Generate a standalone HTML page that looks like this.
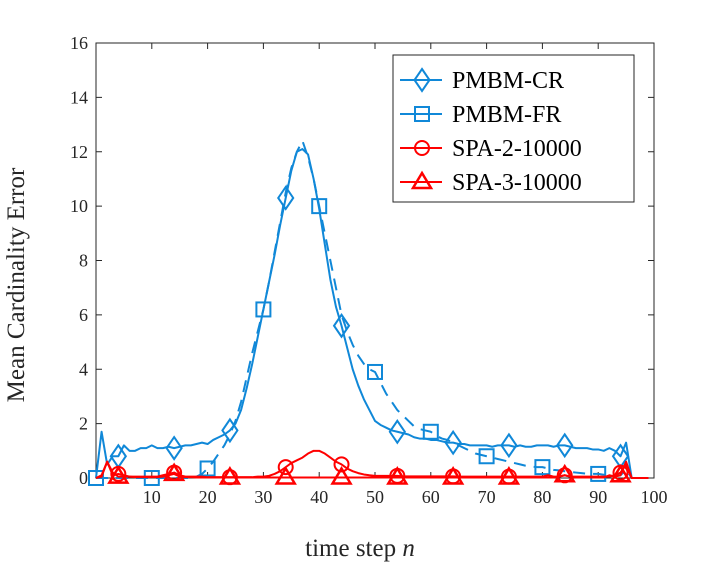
<!DOCTYPE html>
<html><head><meta charset="utf-8"><style>
body{margin:0;background:#fff}
svg{display:block;font-family:"Liberation Serif",serif}
</style></head><body>
<svg id="chart" width="720" height="566" viewBox="0 0 720 566"></svg>
<script>
const xTicks=[10,20,30,40,50,60,70,80,90,100];
const yTicks=[0,2,4,6,8,10,12,14,16];
const steps=Array.from({length:100},(_,i)=>i);
const cr=[0,1.7,0.5,0.8,0.8,1.2,1.0,1.0,1.1,1.1,1.2,1.1,1.1,1.15,1.1,1.15,1.2,1.2,1.25,1.3,1.25,1.4,1.5,1.6,1.75,2.0,2.5,3.3,4.2,5.2,6.2,7.2,8.2,9.3,10.3,11.3,12.0,12.1,11.9,11.0,9.9,8.6,7.3,6.3,5.6,4.8,4.0,3.4,2.9,2.5,2.1,1.95,1.85,1.75,1.7,1.65,1.6,1.5,1.45,1.45,1.4,1.4,1.35,1.3,1.3,1.25,1.25,1.2,1.2,1.2,1.2,1.15,1.2,1.2,1.2,1.15,1.2,1.15,1.15,1.2,1.2,1.2,1.15,1.2,1.2,1.15,1.1,1.1,1.1,1.05,1.05,1.0,1.1,1.0,0.8,1.3,0,0,0,0];
const fr=[0,0,0,0,0,0,0,0,0,0,0,0,0,0,0,0,0,0,0.05,0.15,0.35,0.6,0.9,1.2,1.6,2.1,2.8,3.7,4.6,5.4,6.2,7.2,8.3,9.4,10.5,11.4,12.0,12.4,11.8,11.0,10.0,9.0,8.0,7.0,6.0,5.4,4.9,4.5,4.2,4.0,3.9,3.5,3.1,2.8,2.5,2.3,2.1,1.9,1.8,1.75,1.7,1.55,1.45,1.4,1.3,1.2,1.1,1.0,0.9,0.85,0.8,0.75,0.7,0.65,0.6,0.55,0.5,0.45,0.42,0.4,0.4,0.35,0.3,0.28,0.25,0.22,0.2,0.18,0.16,0.15,0.15,0.12,0.1,0.1,0.1,0.3,0,0,0,0];
const spa2=[0,0.1,0.6,0.1,0.15,0.1,0.05,0.05,0.05,0.05,0.05,0.05,0.1,0.15,0.2,0.1,0.05,0.05,0.05,0.05,0.03,0.03,0.03,0.03,0.03,0.03,0.03,0.03,0.03,0.05,0.05,0.08,0.15,0.25,0.4,0.55,0.65,0.75,0.9,1.0,1.0,0.9,0.75,0.6,0.5,0.35,0.25,0.18,0.13,0.1,0.08,0.08,0.08,0.08,0.08,0.06,0.06,0.06,0.06,0.06,0.06,0.06,0.06,0.06,0.06,0.05,0.05,0.05,0.05,0.05,0.05,0.05,0.05,0.05,0.05,0.05,0.05,0.05,0.05,0.05,0.05,0.1,0.05,0.05,0.1,0.05,0.05,0.05,0.05,0.05,0.05,0.05,0.05,0.1,0.2,0.5,0,0,0,0];
const spa3=[0,0.05,0.6,0.2,0.05,0.05,0.05,0.03,0.03,0.03,0.03,0.03,0.05,0.1,0.15,0.05,0.03,0.03,0.02,0.02,0.02,0.02,0.02,0.02,0.02,0.02,0.02,0.02,0.02,0.02,0.02,0.02,0.02,0.02,0.02,0.02,0.02,0.02,0.02,0.02,0.02,0.02,0.02,0.02,0.02,0.02,0.02,0.02,0.02,0.02,0.02,0.02,0.02,0.02,0.02,0.02,0.02,0.02,0.02,0.02,0.02,0.02,0.02,0.02,0.02,0.02,0.02,0.02,0.02,0.02,0.02,0.02,0.02,0.02,0.02,0.02,0.02,0.02,0.02,0.02,0.02,0.02,0.02,0.05,0.1,0.05,0.02,0.02,0.02,0.02,0.02,0.02,0.1,0.05,0.1,0.6,0,0,0,0];
const legendLabels=["PMBM-CR","PMBM-FR","SPA-2-10000","SPA-3-10000"];

const L=96,R=654,T=43,B=478;
const X=v=>L+(v-0)/100*(R-L);
const Y=v=>B-v/16*(B-T);
const svg=document.getElementById('chart');
const NS='http://www.w3.org/2000/svg';
function mk(tag,attrs,parent){const e=document.createElementNS(NS,tag);for(const k in attrs)e.setAttribute(k,attrs[k]);(parent||svg).appendChild(e);return e;}

const axes=mk('g',{});


mk('rect',{x:L,y:T,width:R-L,height:B-T,fill:'none',stroke:'#262626','stroke-width':1},axes);
xTicks.forEach(t=>{
  mk('line',{x1:X(t),x2:X(t),y1:B,y2:B-6,stroke:'#262626'},axes);
  mk('line',{x1:X(t),x2:X(t),y1:T,y2:T+6,stroke:'#262626'},axes);
  const tx=mk('text',{x:X(t),y:B+25,'text-anchor':'middle','font-size':18,fill:'#262626'},axes);
  tx.textContent=t;
  
  
});
yTicks.forEach(t=>{
  mk('line',{x1:L,x2:L+6,y1:Y(t),y2:Y(t),stroke:'#262626'},axes);
  mk('line',{x1:R,x2:R-6,y1:Y(t),y2:Y(t),stroke:'#262626'},axes);
  const tx=mk('text',{x:L-8,y:Y(t)+6,'text-anchor':'end','font-size':18,fill:'#262626'},axes);
  tx.textContent=t;
  
  
});
const xl=mk('text',{x:360,y:556,'text-anchor':'middle','font-size':25,fill:'#262626'});
xl.innerHTML='time step <tspan font-style="italic">n</tspan>';


const yl=mk('text',{x:0,y:0,'text-anchor':'middle','font-size':25,fill:'#262626',transform:'translate(24,285) rotate(-90)'});
yl.textContent='Mean Cardinality Error';



const blue='#1088d8',red='#ff0000';
function marker(g,type,cx,cy,color){
  if(type==='d')mk('polygon',{points:`${cx},${cy-11} ${cx+7.5},${cy} ${cx},${cy+11} ${cx-7.5},${cy}`,fill:'none',stroke:color,'stroke-width':2},g);
  if(type==='s')mk('rect',{x:cx-7,y:cy-7,width:14,height:14,fill:'none',stroke:color,'stroke-width':2},g);
  if(type==='o')mk('circle',{cx:cx,cy:cy,r:7,fill:'none',stroke:color,'stroke-width':2},g);
  if(type==='t')mk('polygon',{points:`${cx},${cy-9} ${cx+9},${cy+6} ${cx-9},${cy+6}`,fill:'none',stroke:color,'stroke-width':2.5},g);
}
const series=[
 {d:cr,c:blue,m:'d',dash:'',start:4,name:'series-pmbm-cr'},
 {d:fr,c:blue,m:'s',dash:'12 8',start:0,name:'series-pmbm-fr'},
 {d:spa2,c:red,m:'o',dash:'',start:4,name:'series-spa-2'},
 {d:spa3,c:red,m:'t',dash:'',start:4,name:'series-spa-3'}
];
series.forEach(s=>{
  const g=mk('g',{});
  
  
  const pts=s.d.map((v,i)=>X(steps[i])+','+Y(v)).join(' ');
  mk('polyline',{points:pts,fill:'none',stroke:s.c,'stroke-width':2,'stroke-dasharray':s.dash,'stroke-linejoin':'round'},g);
  for(let i=s.start;i<s.d.length;i+=10){marker(g,s.m,X(steps[i]),Y(s.d[i]),s.c);}
});

const lg=mk('g',{});


mk('rect',{x:393,y:55,width:241,height:147,fill:'#fff',stroke:'#262626','stroke-width':1},lg);
legendLabels.forEach((lab,i)=>{
  const y=80+i*34;const s=series[i];
  const e=mk('g',{},lg);
  
  
  mk('line',{x1:400,x2:442,y1:y,y2:y,stroke:s.c,'stroke-width':2},e);
  marker(e,s.m,422,y,s.c);
  const t=mk('text',{x:452,y:y+8,'font-size':24,fill:'#000'},e);
  t.textContent=lab;
});
</script>
</body></html>
